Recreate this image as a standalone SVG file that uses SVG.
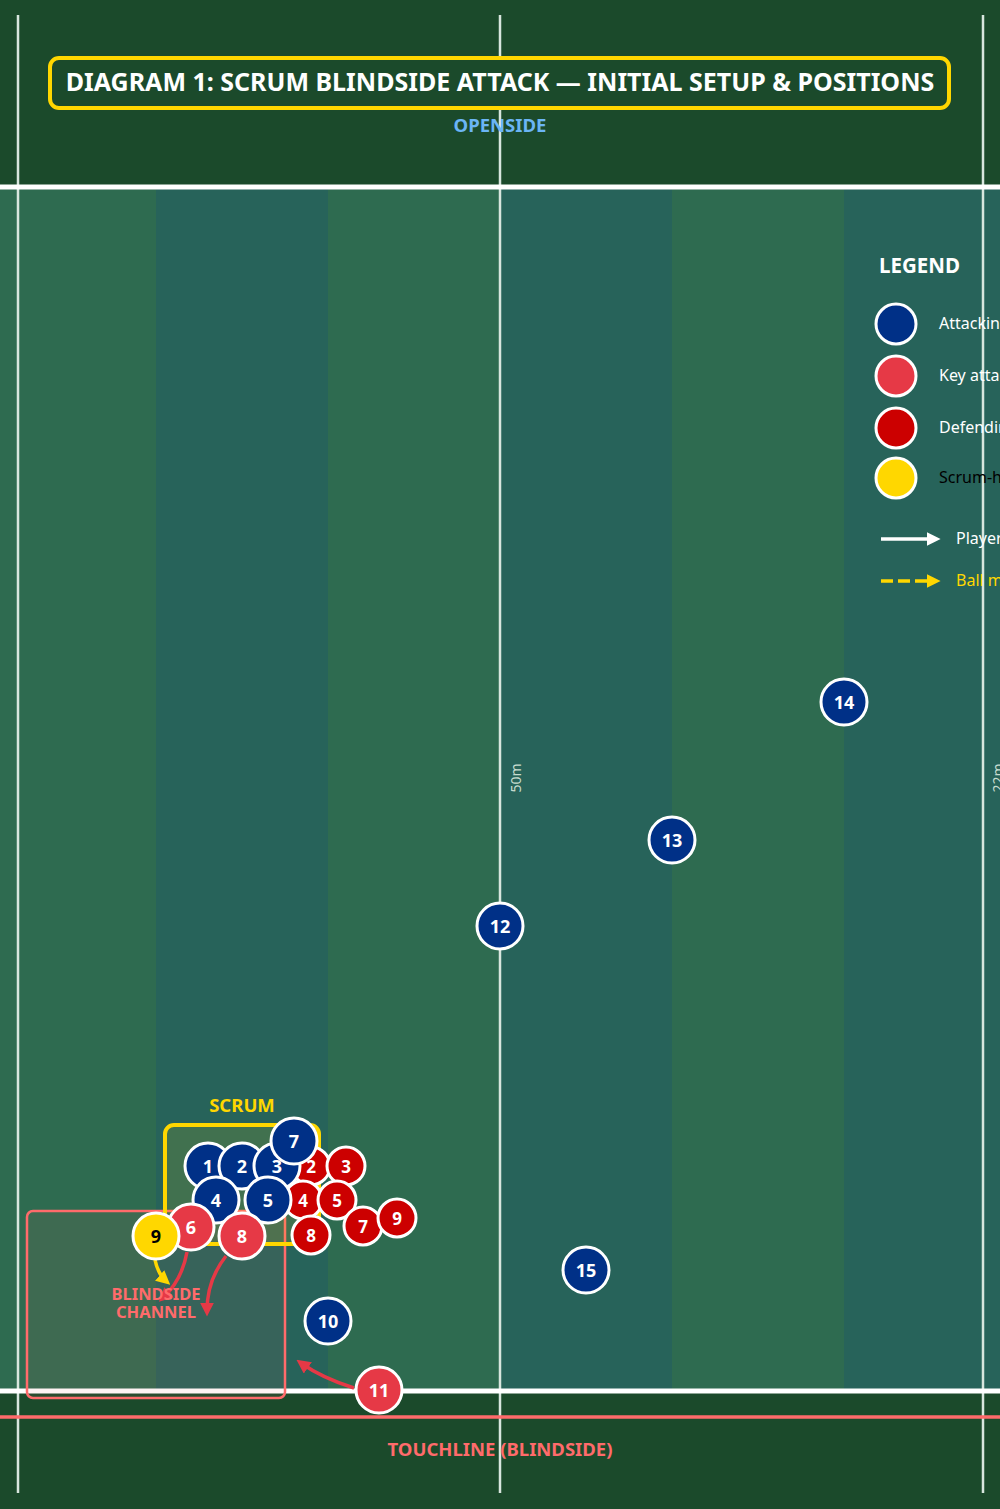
<svg xmlns="http://www.w3.org/2000/svg" width="1000" height="1509" viewBox="0 0 1000 1509">
<style>
.pl{stroke:#fff;stroke-width:3}
.att{fill:#003087}
.key{fill:#e63946}
.def{fill:#cc0000}
.sh{fill:#ffd700}
.num{font-family:"Noto Sans","DejaVu Sans",sans-serif;font-weight:bold;font-size:18px;fill:#fff;text-anchor:middle;dominant-baseline:central}
.numd{font-family:"Noto Sans","DejaVu Sans",sans-serif;font-weight:bold;font-size:17px;fill:#fff;text-anchor:middle;dominant-baseline:central}
.lt{font-family:"Noto Sans","DejaVu Sans",sans-serif;font-size:16px;fill:#fff}
.vl{stroke:#d8e6de;stroke-width:2.5}
.mk{font-family:"Noto Sans","DejaVu Sans",sans-serif;font-size:14px;fill:#c8dccf}
.bt{font-family:"Noto Sans","DejaVu Sans",sans-serif;font-weight:bold;text-anchor:middle}
</style>
<defs>
<marker id="ar" viewBox="0 0 10 10" refX="6" refY="5" markerWidth="4" markerHeight="4" orient="auto"><path d="M0,0 L10,5 L0,10 z" fill="#e63946"/></marker>
<marker id="ay" viewBox="0 0 10 10" refX="6" refY="5" markerWidth="4" markerHeight="4" orient="auto"><path d="M0,0 L10,5 L0,10 z" fill="#ffd700"/></marker>
<marker id="aw" viewBox="0 0 10 10" refX="6" refY="5" markerWidth="4" markerHeight="4" orient="auto"><path d="M0,0 L10,5 L0,10 z" fill="#fff"/></marker>
</defs>
<rect width="1000" height="1509" fill="#1b4a2b"/>
<g id="field">
<rect x="0" y="187" width="156" height="1204" fill="#2e6b50"/>
<rect x="156" y="187" width="172" height="1204" fill="#27635a"/>
<rect x="328" y="187" width="172" height="1204" fill="#2e6b50"/>
<rect x="500" y="187" width="172" height="1204" fill="#27635a"/>
<rect x="672" y="187" width="172" height="1204" fill="#2e6b50"/>
<rect x="844" y="187" width="156" height="1204" fill="#27635a"/>
<line class="vl" x1="18" y1="15" x2="18" y2="1493"/>
<line class="vl" x1="500" y1="15" x2="500" y2="1493"/>
<line class="vl" x1="983" y1="15" x2="983" y2="1493"/>
<line x1="0" y1="187" x2="1000" y2="187" stroke="#fff" stroke-width="5"/>
<line x1="0" y1="1391" x2="1000" y2="1391" stroke="#fff" stroke-width="5"/>
<line x1="0" y1="1417" x2="1000" y2="1417" stroke="#ff6b6b" stroke-width="3.5"/>
<text class="mk" transform="translate(521,778) rotate(-90)" text-anchor="middle">50m</text>
<text class="mk" transform="translate(1003,778) rotate(-90)" text-anchor="middle">22m</text>
<text class="bt" x="500" y="1456" font-size="18.5" fill="#ff6b6b">TOUCHLINE (BLINDSIDE)</text>
<text class="bt" x="500" y="132" font-size="18.5" fill="#6bb5f5">OPENSIDE</text>
</g>
<g id="title">
<rect x="50" y="58" width="899" height="50" rx="9" fill="#1b4a2b" stroke="#ffd700" stroke-width="4"/>
<text class="bt" x="500" y="90.5" font-size="25" fill="#fff">DIAGRAM 1: SCRUM BLINDSIDE ATTACK — INITIAL SETUP &amp; POSITIONS</text>
</g>
<g id="blindside-channel">
<rect x="27" y="1211" width="258" height="187" rx="6" fill="#ff6b6b" fill-opacity="0.08" stroke="#ff6b6b" stroke-width="2.5"/>
</g>
<g id="scrum-zone">
<rect x="165" y="1125" width="154" height="119" rx="9" fill="#ffd700" fill-opacity="0.12" stroke="#ffd700" stroke-width="4"/>
<text class="bt" x="242" y="1112" font-size="18.5" fill="#ffd700">SCRUM</text>
</g>
<g id="connectors" fill="none">
<path d="M155,1260 Q158,1274 166,1281" stroke="#ffd700" stroke-width="3.5" marker-end="url(#ay)"/>
<path d="M187,1252 Q182,1280 163,1298" stroke="#e63946" stroke-width="3.5" marker-end="url(#ar)"/>
<path d="M226,1256 Q207,1280 207,1311" stroke="#e63946" stroke-width="3.5" marker-end="url(#ar)"/>
<path d="M354,1388 Q322,1378 301,1363" stroke="#e63946" stroke-width="3.5" marker-end="url(#ar)"/>
</g>
<g id="defenders">
<g id="d2"><circle class="pl def" cx="311" cy="1166" r="19"/><text class="numd" x="311" y="1166">2</text></g>
<g id="d3"><circle class="pl def" cx="346" cy="1166" r="19"/><text class="numd" x="346" y="1166">3</text></g>
<g id="d4"><circle class="pl def" cx="303" cy="1200" r="19"/><text class="numd" x="303" y="1200">4</text></g>
<g id="d5"><circle class="pl def" cx="337" cy="1200" r="19"/><text class="numd" x="337" y="1200">5</text></g>
<g id="d8"><circle class="pl def" cx="311" cy="1235" r="19"/><text class="numd" x="311" y="1235">8</text></g>
<g id="d7"><circle class="pl def" cx="363" cy="1226" r="19"/><text class="numd" x="363" y="1226">7</text></g>
<g id="d9"><circle class="pl def" cx="397" cy="1218" r="19"/><text class="numd" x="397" y="1218">9</text></g>
</g>
<g id="attackers">
<g id="a1"><circle class="pl att" cx="208" cy="1166" r="23"/><text class="num" x="208" y="1166">1</text></g>
<g id="a2"><circle class="pl att" cx="242" cy="1166" r="23"/><text class="num" x="242" y="1166">2</text></g>
<g id="a3"><circle class="pl att" cx="277" cy="1166" r="23"/><text class="num" x="277" y="1166">3</text></g>
<g id="a4"><circle class="pl att" cx="216" cy="1200" r="23"/><text class="num" x="216" y="1200">4</text></g>
<g id="a5"><circle class="pl att" cx="268" cy="1200" r="23"/><text class="num" x="268" y="1200">5</text></g>
<g id="a7"><circle class="pl att" cx="294" cy="1141" r="23"/><text class="num" x="294" y="1141">7</text></g>
<g id="a6"><circle class="pl key" cx="191" cy="1227" r="23"/><text class="num" x="191" y="1227">6</text></g>
<g id="a8"><circle class="pl key" cx="242" cy="1236" r="23"/><text class="num" x="242" y="1236">8</text></g>
<g id="a9"><circle class="pl sh" cx="156" cy="1236" r="23"/><text class="num" x="156" y="1236" style="fill:#000">9</text></g>
<g id="a10"><circle class="pl att" cx="328" cy="1321" r="23"/><text class="num" x="328" y="1321">10</text></g>
<g id="a11"><circle class="pl key" cx="379" cy="1390" r="23"/><text class="num" x="379" y="1390">11</text></g>
<g id="a12"><circle class="pl att" cx="500" cy="926" r="23"/><text class="num" x="500" y="926">12</text></g>
<g id="a13"><circle class="pl att" cx="672" cy="840" r="23"/><text class="num" x="672" y="840">13</text></g>
<g id="a14"><circle class="pl att" cx="844" cy="702" r="23"/><text class="num" x="844" y="702">14</text></g>
<g id="a15"><circle class="pl att" cx="586" cy="1270" r="23"/><text class="num" x="586" y="1270">15</text></g>
</g>
<g id="blindside-label">
<text class="bt" x="156" y="1300" font-size="16.5" fill="#ff6b6b">BLINDSIDE</text>
<text class="bt" x="156" y="1318" font-size="16.5" fill="#ff6b6b">CHANNEL</text>
</g>
<g id="legend">
<text x="879" y="273" font-family="Noto Sans, DejaVu Sans, sans-serif" font-weight="bold" font-size="20.5" fill="#fff">LEGEND</text>
<circle class="pl att" cx="896" cy="324" r="20"/><text class="lt" x="939" y="329">Attacking team</text>
<circle class="pl key" cx="896" cy="376" r="20"/><text class="lt" x="939" y="381">Key attacker</text>
<circle class="pl def" cx="896" cy="428" r="20"/><text class="lt" x="939" y="433">Defending team</text>
<circle class="pl sh" cx="896" cy="478" r="20"/><text class="lt" x="939" y="483" style="fill:#000">Scrum-half</text>
<line x1="881" y1="539" x2="935" y2="539" stroke="#fff" stroke-width="3.5" marker-end="url(#aw)"/><text class="lt" x="956" y="544">Player run</text>
<line x1="881" y1="581" x2="935" y2="581" stroke="#ffd700" stroke-width="3.5" stroke-dasharray="12,5" marker-end="url(#ay)"/><text class="lt" x="956" y="586" style="fill:#ffd700">Ball movement</text>
</g>
</svg>
